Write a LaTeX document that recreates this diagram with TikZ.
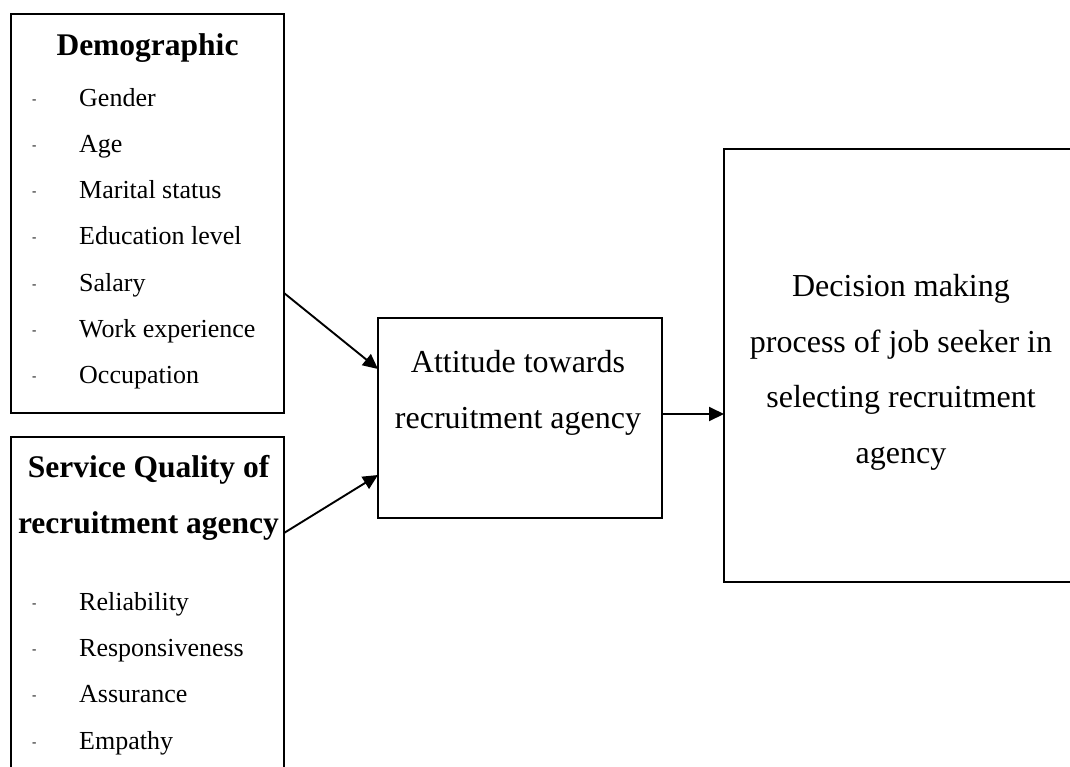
\documentclass[tikz,border=0pt]{standalone}
\usepackage{fontspec}
\setmainfont{Liberation Serif}
\usetikzlibrary{arrows.meta,calc}
\begin{document}
\begin{tikzpicture}[x=1pt,y=-1pt,
  box/.style={draw,line width=1.9pt,inner sep=0pt,outer sep=0pt},
  arr/.style={line width=1.9pt,-{Triangle[length=15pt,width=14pt]}},
  itemtext/.style={anchor=base west,inner sep=0pt,font=\fontsize{26}{30}\selectfont},
  dashmark/.style={anchor=base west,inner sep=0pt,yshift=3pt,font=\fontsize{13}{15}\selectfont},
  hd/.style={anchor=base,inner sep=0pt,align=center,font=\bfseries\fontsize{31.5}{56}\selectfont},
  txt/.style={anchor=base,inner sep=0pt,align=center,font=\fontsize{32}{55.5}\selectfont}]
\clip (0,0) rectangle (1070,766);
\fill[white] (0,0) rectangle (1070,766);
% boxes
\node[box,minimum width=273pt,minimum height=399pt] (demo) at (147.5,213.5) {};
\node[box,minimum width=273pt,minimum height=353pt] (svc) at (147.5,613.5) {};
\node[box,minimum width=284pt,minimum height=200pt] (att) at (520,418) {};
\node[box,minimum width=354pt,minimum height=433pt] (dec) at (901,365.5) {};
% texts
\node[hd] (demoh) at (147.5,55) {Demographic};
\foreach \t [count=\i from 0] in {Gender,Age,Marital status,Education level,Salary,Work experience,Occupation}{
  \node[dashmark] (dd\i) at (32,106+46.3*\i) {-};
  \node[itemtext] (dt\i) at (79,106+46.3*\i) {\t};
}
\node[hd] (svch) at (148.5,533) {Service Quality of\\recruitment agency};
\foreach \t [count=\i from 0] in {Reliability,Responsiveness,Assurance,Empathy}{
  \node[dashmark] (sd\i) at (32,610+46.4*\i) {-};
  \node[itemtext] (st\i) at (79,610+46.4*\i) {\t};
}
\node[txt] (attt) at (518,428) {Attitude towards\\recruitment agency};
\node[txt] (dect) at (901,463) {Decision making\\process of job seeker in\\selecting recruitment\\agency};
% connectors
\draw[arr] ($(demo.north east)+(0,279)$) -- ($(att.north west)+(0,51)$);
\draw[arr] ($(svc.north east)+(0,96)$) -- ($(att.north west)+(0,157)$);
\coordinate (m) at ($(att.east)+(0,-4)$);
\draw[arr] (m) -- (m -| dec.west);
\end{tikzpicture}
\end{document}
